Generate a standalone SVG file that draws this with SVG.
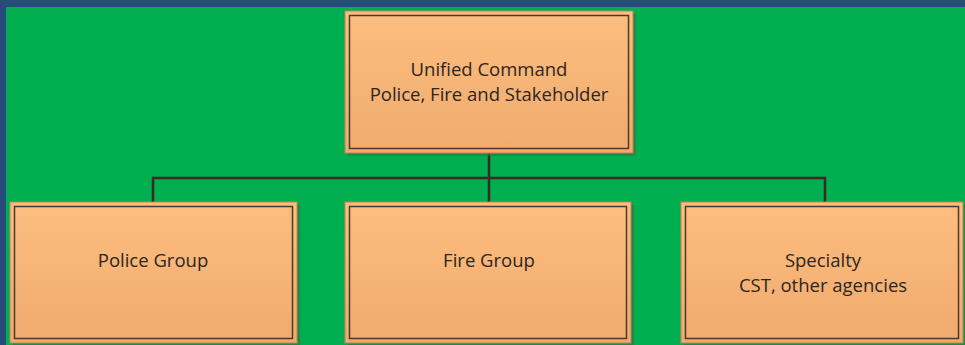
<svg xmlns="http://www.w3.org/2000/svg" width="965" height="345" viewBox="0 0 965 345">
<defs>
<linearGradient id="g" x1="0" y1="0" x2="0" y2="1">
<stop offset="0" stop-color="#fdbe7f"/>
<stop offset="1" stop-color="#f0aa6f"/>
</linearGradient>
<style>
.sh{fill:#3d6b3a;opacity:0.55}
.outer{fill:url(#g);stroke:#b8875c;stroke-width:1}
.inner{fill:none;stroke:#4e3a2c;stroke-width:1.5}
.t{font-family:"Open Sans","Liberation Sans",sans-serif;font-size:18.5px;fill:#2b2622;text-anchor:middle}
.conn{fill:none;stroke:#3b2b20;stroke-width:2.5}
</style>
</defs>
<rect x="0" y="0" width="965" height="345" fill="#00ad4f"/>
<rect x="0" y="0" width="965" height="7" fill="#274b7a"/>
<rect x="0" y="0" width="6" height="345" fill="#274b7a"/>
<g id="connectors">
<path class="conn" d="M489 153 V178 M153 202 V178 H825 V202 M489 178 V202"/>
</g>
<g id="unified">
<rect class="sh" x="348" y="14" width="288" height="142"/>
<rect class="outer" x="345" y="11" width="288" height="142"/>
<rect class="inner" x="349.5" y="15.5" width="279" height="133"/>
<text class="t" x="489" y="76">Unified Command</text>
<text class="t" x="489" y="101">Police, Fire and Stakeholder</text>
</g>
<g id="police">
<rect class="sh" x="13" y="205" width="287" height="142"/>
<rect class="outer" x="10" y="202" width="287" height="141"/>
<rect class="inner" x="14.5" y="206.5" width="278" height="132"/>
<text class="t" x="153" y="267">Police Group</text>
</g>
<g id="fire">
<rect class="sh" x="348" y="205" width="286" height="142"/>
<rect class="outer" x="345" y="202" width="286" height="141"/>
<rect class="inner" x="349.5" y="206.5" width="277" height="132"/>
<text class="t" x="489" y="267">Fire Group</text>
</g>
<g id="specialty">
<rect class="sh" x="684" y="205" width="282" height="142"/>
<rect class="outer" x="681" y="202" width="282" height="141"/>
<rect class="inner" x="685.5" y="206.5" width="273" height="132"/>
<text class="t" x="823" y="267">Specialty</text>
<text class="t" x="823" y="292">CST, other agencies</text>
</g>
</svg>
